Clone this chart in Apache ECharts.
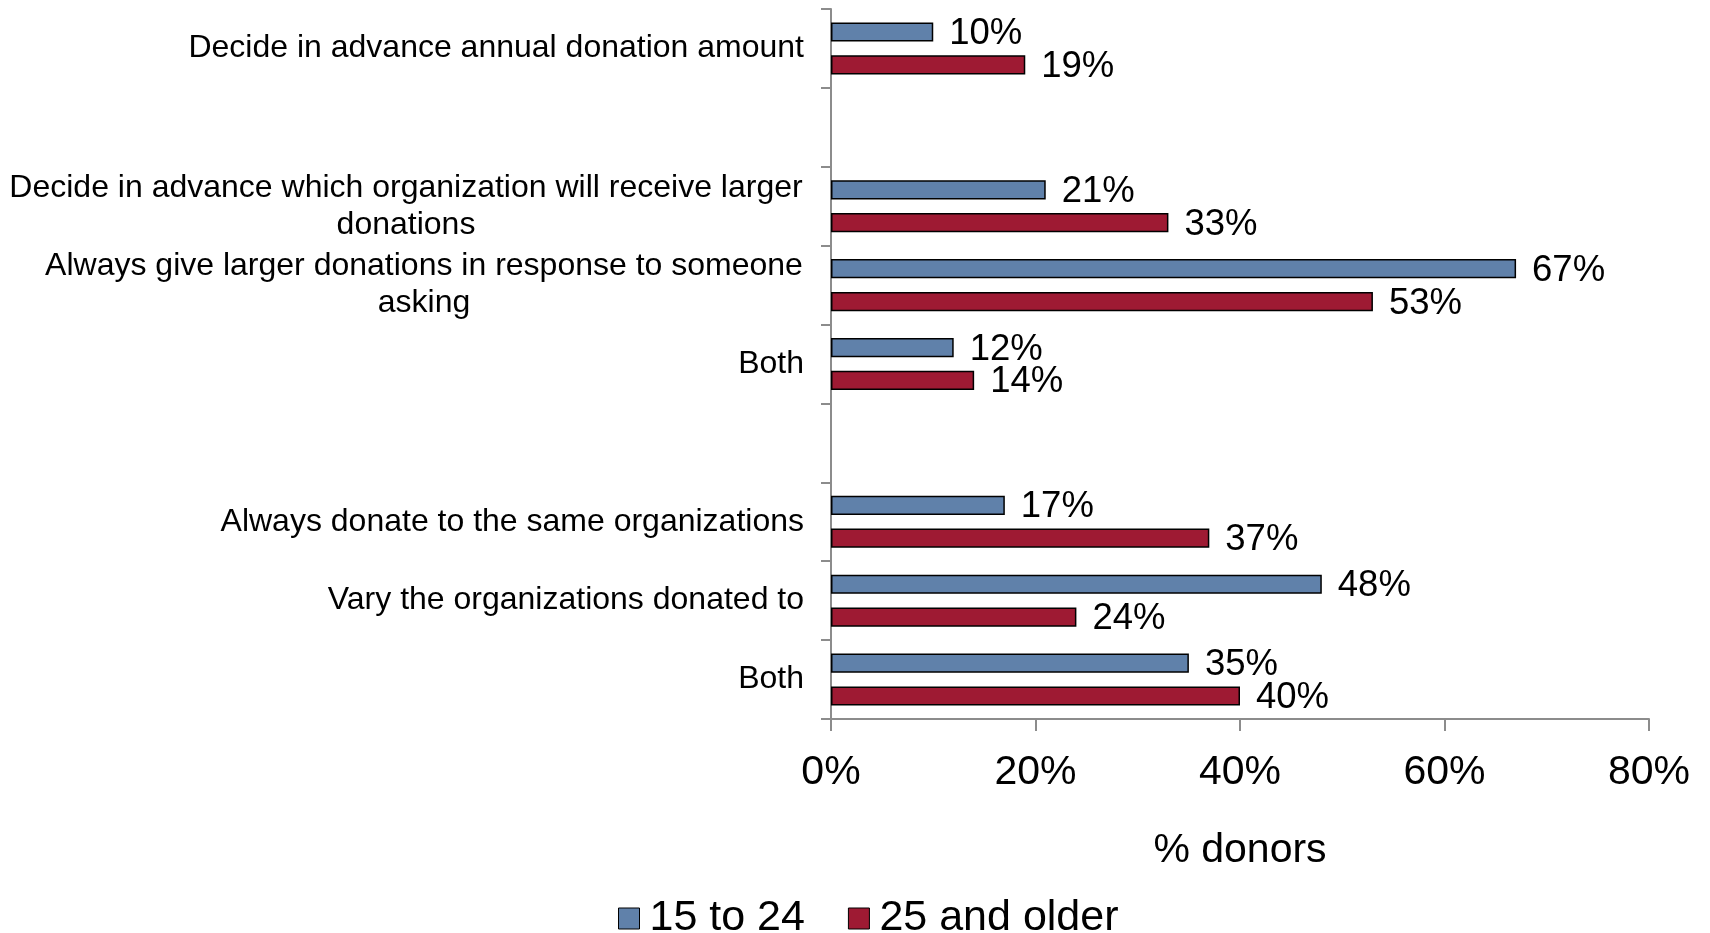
<!DOCTYPE html>
<html>
<head>
<meta charset="utf-8">
<script src="https://cdn.jsdelivr.net/npm/echarts@6/dist/echarts.min.js"></script>
<style>
html,body{margin:0;padding:0;background:#fff;}
#chart{width:1710px;height:933px;}
</style>
</head>
<body>
<div id="chart"></div>
<script>
// Categories listed top to bottom ('' = empty spacer slot)
const categories = [
  'Decide in advance annual donation amount',
  '',
  'Decide in advance which organization will receive larger\ndonations',
  'Always give larger donations in response to someone\nasking',
  'Both',
  '',
  'Always donate to the same organizations',
  'Vary the organizations donated to',
  'Both'
];
const seriesNames = ['15 to 24', '25 and older'];
const young = [10, null, 21, 67, 12, null, 17, 48, 35];
const older = [19, null, 33, 53, 14, null, 37, 24, 40];
const xTicks = [0, 20, 40, 60, 80];

const FONT = "'Liberation Sans', Arial, sans-serif";
const catFontSize = 32;

// measure widths of multi-line labels so lines can be centred within the block
const ctx = document.createElement('canvas').getContext('2d');
ctx.font = catFontSize + 'px ' + FONT;
const rich = {};
const labelKey = {};
categories.forEach((c, i) => {
  if (c.indexOf('\n') >= 0) {
    const w = Math.max(...c.split('\n').map(s => ctx.measureText(s).width));
    const key = 'm' + i;
    rich[key] = {width: Math.ceil(w) + 2, align: 'center', fontSize: catFontSize, fontFamily: FONT, color: '#000', lineHeight: 37};
    labelKey[c] = key;
  }
});

const labelStyle = {show: true, position: 'right', distance: 16, formatter: '{c}%', fontSize: 36.5, fontFamily: FONT, color: '#000', offset: [0, 2]};

const chart = echarts.init(document.getElementById('chart'));
chart.setOption({
  animation: false,
  backgroundColor: '#fff',
  grid: {left: 831, right: 61, top: 9, bottom: 214, containLabel: false},
  legend: {
    data: seriesNames,
    left: 613,
    top: 892,
    icon: 'rect',
    itemWidth: 21,
    itemHeight: 21,
    itemGap: 43,
    itemStyle: {borderColor: '#000', borderWidth: 1},
    textStyle: {fontSize: 43, fontFamily: FONT, color: '#000', padding: [0, 0, 0, 5]}
  },
  xAxis: {
    type: 'value',
    min: xTicks[0],
    max: xTicks[xTicks.length - 1],
    interval: 20,
    name: '% donors',
    nameLocation: 'middle',
    nameGap: 111,
    nameTextStyle: {fontSize: 41, fontFamily: FONT, color: '#000'},
    axisLine: {show: true, lineStyle: {color: '#8c8c8c', width: 2}},
    axisTick: {show: true, length: 12, lineStyle: {color: '#8c8c8c', width: 2}},
    splitLine: {show: false},
    axisLabel: {
      formatter: v => v + '%',
      fontSize: 41, fontFamily: FONT, color: '#000', margin: 33
    }
  },
  yAxis: {
    type: 'category',
    inverse: true,
    data: categories,
    axisLine: {show: true, lineStyle: {color: '#8c8c8c', width: 2}},
    axisTick: {show: true, length: 10, lineStyle: {color: '#8c8c8c', width: 2}},
    axisLabel: {
      interval: 0,
      margin: 27,
      fontSize: catFontSize,
      fontFamily: FONT,
      color: '#000',
      lineHeight: 37,
      rich: rich,
      formatter: v => {
        if (labelKey[v]) {
          const k = labelKey[v];
          return v.split('\n').map(s => '{' + k + '|' + s + '}').join('\n');
        }
        return v;
      }
    }
  },
  series: [
    {
      name: seriesNames[0],
      type: 'bar',
      data: young,
      barGap: '71%',
      barCategoryGap: '34%',
      itemStyle: {color: '#6081aa', borderColor: '#000', borderWidth: 1.5},
      label: labelStyle
    },
    {
      name: seriesNames[1],
      type: 'bar',
      data: older,
      barGap: '71%',
      barCategoryGap: '34%',
      itemStyle: {color: '#9e1a33', borderColor: '#000', borderWidth: 1.5},
      label: labelStyle
    }
  ]
});
</script>
</body>
</html>
